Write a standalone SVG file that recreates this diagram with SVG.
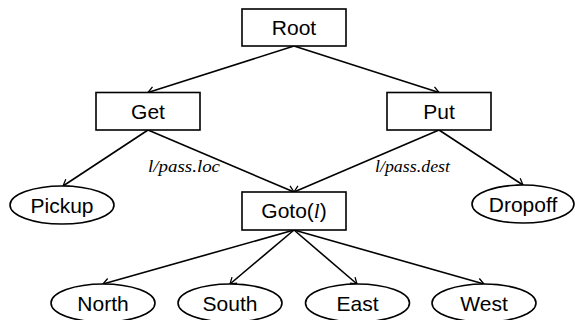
<svg xmlns="http://www.w3.org/2000/svg" width="575" height="320" viewBox="0 0 575 320">
<defs>
<style>
.box{fill:#fff;stroke:#000;stroke-width:1.6}
.ell{fill:#fff;stroke:#000;stroke-width:1.6}
.t{font-family:"Liberation Sans",Arial,sans-serif;font-size:21px;text-anchor:middle;fill:#000}
.m{font-family:"Liberation Serif","Times New Roman",serif;font-style:italic}
.lab{font-family:"Liberation Serif","Times New Roman",serif;font-style:italic;font-size:16px;fill:#000}
.e{stroke:#000;stroke-width:1.6;fill:none;marker-end:url(#arr)}
</style>
<marker id="arr" viewBox="-8 -5 10 10" markerWidth="10" markerHeight="10" refX="0" refY="0" orient="auto" markerUnits="userSpaceOnUse">
<path d="M -6 -4 Q -1.5 -1 0 0 Q -1.5 1 -6 4" fill="none" stroke="#000" stroke-width="1.3"/>
</marker>
</defs>
<rect width="575" height="320" fill="#fff"/>
<g id="connectors">
<line class="e" x1="294" y1="46" x2="148" y2="92.5"/>
<line class="e" x1="294" y1="46" x2="439" y2="92.5"/>
<line class="e" x1="148" y1="130" x2="63" y2="186"/>
<line class="e" x1="148" y1="130" x2="294" y2="192"/>
<line class="e" x1="439" y1="130" x2="294" y2="192"/>
<line class="e" x1="439" y1="130" x2="523" y2="185"/>
<line class="e" x1="294" y1="230" x2="103" y2="284"/>
<line class="e" x1="294" y1="230" x2="230" y2="284"/>
<line class="e" x1="294" y1="230" x2="357" y2="284"/>
<line class="e" x1="294" y1="230" x2="484" y2="284"/>
<text class="lab" x="148" y="171.5" textLength="72" lengthAdjust="spacingAndGlyphs">l/pass.loc</text>
<text class="lab" x="375" y="171.5" textLength="75" lengthAdjust="spacingAndGlyphs">l/pass.dest</text>
</g>
<g id="root"><rect class="box" x="242" y="9" width="104" height="37"/><text class="t" x="294" y="34.5">Root</text></g>
<g id="get"><rect class="box" x="96" y="92.5" width="104" height="37.5"/><text class="t" x="148" y="119">Get</text></g>
<g id="put"><rect class="box" x="387" y="92.5" width="104" height="37.5"/><text class="t" x="439" y="119">Put</text></g>
<g id="goto"><rect class="box" x="242" y="192" width="104" height="38"/><text class="t" x="294" y="218">Goto(<tspan class="m">l</tspan>)</text></g>
<g id="pickup"><ellipse class="ell" cx="62" cy="205" rx="52" ry="19"/><text class="t" x="62" y="212.5">Pickup</text></g>
<g id="dropoff"><ellipse class="ell" cx="523" cy="204" rx="51" ry="19"/><text class="t" x="523" y="211.5">Dropoff</text></g>
<g id="north"><ellipse class="ell" cx="103" cy="303" rx="52" ry="19"/><text class="t" x="103" y="310.5">North</text></g>
<g id="south"><ellipse class="ell" cx="230" cy="303" rx="52" ry="19"/><text class="t" x="230" y="310.5">South</text></g>
<g id="east"><ellipse class="ell" cx="357.5" cy="303" rx="52" ry="19"/><text class="t" x="357.5" y="310.5">East</text></g>
<g id="west"><ellipse class="ell" cx="484" cy="303" rx="52" ry="19"/><text class="t" x="484" y="310.5">West</text></g>
</svg>
